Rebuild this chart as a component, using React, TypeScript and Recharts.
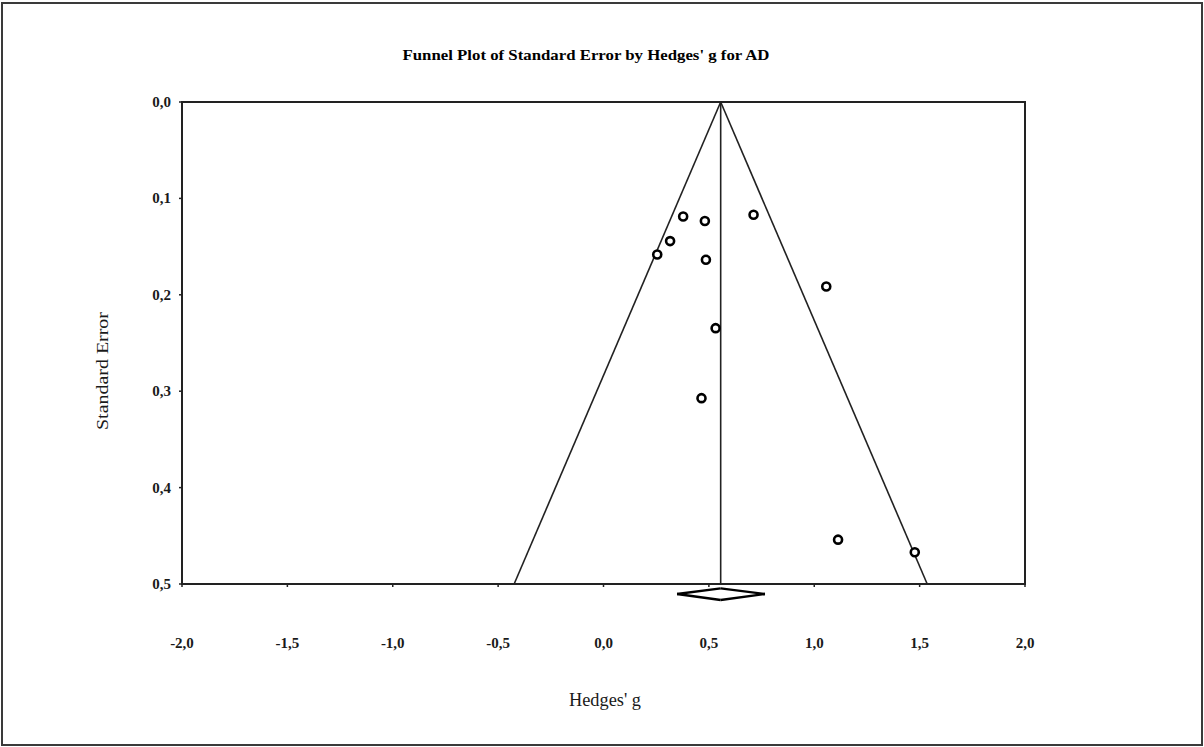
import { ScatterChart, Scatter, XAxis, YAxis, ReferenceLine, ReferenceArea } from 'recharts';

// study effect sizes and their standard errors
const hedgesG = [0.378, 0.481, 0.316, 0.255, 0.486, 0.712, 1.057, 0.532, 0.465, 1.113, 1.477];
const stdError = [0.1187, 0.1235, 0.1443, 0.1582, 0.1637, 0.117, 0.1914, 0.2346, 0.3072, 0.454, 0.467];

// pooled estimate and its confidence interval
const meanEffect = 0.556;
const ciLow = 0.349;
const ciHigh = 0.766;
const maxSE = 0.5;

// vertical placement of the summary diamond, just under the x axis
const diamondTop = 0.5045;
const diamondMid = 0.5104;
const diamondBottom = 0.5166;

const xTicks = [-2, -1.5, -1, -0.5, 0, 0.5, 1, 1.5, 2];
const yTicks = [0, 0.1, 0.2, 0.3, 0.4, 0.5];

const studies = hedgesG.map((g, i) => ({ g, se: stdError[i] }));

const serif = '"Liberation Serif", "Times New Roman", serif';
const ink = '#1a1a1a';

const fmt = (v: number) => v.toFixed(1).replace('.', ',');

const tickFont = { fontFamily: serif, fontSize: 15, fontWeight: 700 };

function XTick(props: any) {
  const { x, y, payload } = props;
  return (
    <text x={x} y={y} dy={10} textAnchor="middle" style={tickFont} fill={ink}>
      {fmt(payload.value)}
    </text>
  );
}

function YTick(props: any) {
  const { x, y, payload } = props;
  return (
    <text x={x} y={y} dy={5} textAnchor="end" style={tickFont} fill={ink}>
      {fmt(payload.value)}
    </text>
  );
}

function OpenCircle(props: any) {
  const { cx, cy } = props;
  return <circle cx={cx} cy={cy} r={4} fill="#fff" stroke="#000" strokeWidth={2.6} />;
}

export default function App() {
  const diamond = [
    [{ x: ciLow, y: diamondMid }, { x: meanEffect, y: diamondTop }],
    [{ x: meanEffect, y: diamondTop }, { x: ciHigh, y: diamondMid }],
    [{ x: ciHigh, y: diamondMid }, { x: meanEffect, y: diamondBottom }],
    [{ x: meanEffect, y: diamondBottom }, { x: ciLow, y: diamondMid }],
  ];
  return (
    <div style={{ position: 'absolute', left: 0, top: 0, width: 1204, height: 747, background: '#fff', fontFamily: serif }}>
      <div style={{ position: 'absolute', left: 1, top: 2, width: 1202, height: 744, border: '2px solid #3a3a3a', boxSizing: 'border-box' }} />
      <ScatterChart width={1204} height={747} margin={{ top: 102, right: 179, bottom: 103, left: 122 }}>
        <text
          x={586}
          y={60}
          textAnchor="middle"
          textLength={367}
          lengthAdjust="spacingAndGlyphs"
          style={{ fontFamily: serif, fontSize: 14.5, fontWeight: 700 }}
          fill="#000"
        >
          Funnel Plot of Standard Error by Hedges' g for AD
        </text>
        <text
          x={605}
          y={706}
          textAnchor="middle"
          textLength={72}
          lengthAdjust="spacingAndGlyphs"
          style={{ fontFamily: serif, fontSize: 18 }}
          fill={ink}
        >
          Hedges' g
        </text>
        <text
          x={108}
          y={371}
          textAnchor="middle"
          textLength={118}
          lengthAdjust="spacingAndGlyphs"
          style={{ fontFamily: serif, fontSize: 17 }}
          fill={ink}
          transform="rotate(-90 108 371)"
        >
          Standard Error
        </text>
        <XAxis
          type="number"
          dataKey="g"
          domain={[-2, 2]}
          ticks={xTicks}
          height={60}
          tickSize={3}
          tickMargin={51}
          tick={<XTick />}
          axisLine={{ stroke: '#222', strokeWidth: 2 }}
          tickLine={{ stroke: '#222', strokeWidth: 1.5 }}
        />
        <YAxis
          type="number"
          dataKey="se"
          domain={[0, maxSE]}
          reversed
          ticks={yTicks}
          width={60}
          tickSize={3}
          tickMargin={8}
          tick={<YTick />}
          axisLine={{ stroke: '#222', strokeWidth: 2 }}
          tickLine={{ stroke: '#222', strokeWidth: 1.5 }}
        />
        <ReferenceArea x1={-2} x2={2} y1={0} y2={maxSE} fill="none" stroke="#222" strokeWidth={2} />
        <ReferenceLine segment={[{ x: meanEffect, y: 0 }, { x: meanEffect, y: maxSE }]} stroke="#222" strokeWidth={1.6} />
        <ReferenceLine
          segment={[{ x: meanEffect, y: 0 }, { x: meanEffect - 1.96 * maxSE, y: maxSE }]}
          stroke="#222"
          strokeWidth={1.6}
        />
        <ReferenceLine
          segment={[{ x: meanEffect, y: 0 }, { x: meanEffect + 1.96 * maxSE, y: maxSE }]}
          stroke="#222"
          strokeWidth={1.6}
        />
        {diamond.map((seg, i) => (
          <ReferenceLine key={i} segment={seg} ifOverflow="visible" stroke="#000" strokeWidth={2.4} />
        ))}
        <Scatter data={studies} shape={<OpenCircle />} isAnimationActive={false} />
      </ScatterChart>
    </div>
  );
}
